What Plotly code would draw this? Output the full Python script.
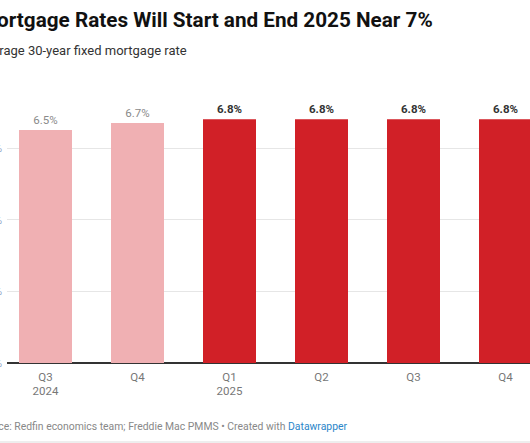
import plotly.graph_objects as go

categories = ["Q3<br>2024", "Q4", "Q1<br>2025", "Q2", "Q3", "Q4"]
rates = [6.5, 6.7, 6.8, 6.8, 6.8, 6.8]
is_forecast = [False, False, True, True, True, True]
y_ticks = [0, 2, 4, 6]
y_tick_labels = ["0%", "2%", "4%", "6%"]

title = "Mortgage Rates Will Start and End 2025 Near 7%"
subtitle = "Average 30-year fixed mortgage rate"
source = ("Source: Redfin economics team; Freddie Mac PMMS • Created with "
          "<span style='color:#2a86c9'>Datawrapper</span>")

W, H = 530, 443
ML, MR, MT, MB = 7, 0, 95, 80
PW = W - ML - MR
PH = H - MT - MB
px_per_cat = 92.0
x0 = -(45.5 - ML) / px_per_cat
x1 = x0 + PW / px_per_cat
px_per_unit = 35.83
ymax = PH / px_per_unit


def px2paper_x(px):
    return (px - ML) / PW


def px2paper_y(py):
    return (H - MB - py) / PH


idx = list(range(len(categories)))
hist_x = [i for i in idx if not is_forecast[i]]
fc_x = [i for i in idx if is_forecast[i]]

fig = go.Figure()
fig.add_trace(go.Bar(
    x=hist_x, y=[rates[i] for i in hist_x],
    marker=dict(color="#f0b0b3", line=dict(width=0)),
    width=0.576,
    text=[f"{rates[i]:.1f}%" for i in hist_x],
    textposition="outside",
    textfont=dict(family="Roboto", size=11.5, color="#8a8a8a"),
    cliponaxis=False,
))
fig.add_trace(go.Bar(
    x=fc_x, y=[rates[i] for i in fc_x],
    marker=dict(color="#d12027", line=dict(width=0)),
    width=0.576,
    text=[f"<b>{rates[i]:.1f}%</b>" for i in fc_x],
    textposition="outside",
    textfont=dict(family="Roboto", size=11.5, color="#333333"),
    cliponaxis=False,
))

fig.update_layout(
    width=W, height=H,
    margin=dict(l=ML, r=MR, t=MT, b=MB, autoexpand=False),
    paper_bgcolor="white", plot_bgcolor="white",
    showlegend=False,
    bargap=0.424,
    font=dict(family="Roboto", color="#333333"),
    xaxis=dict(
        range=[x0, x1], tickmode="array", tickvals=idx, ticktext=categories,
        showgrid=False, zeroline=False, showline=False, ticks="",
        tickfont=dict(family="Roboto", size=11.5, color="#777777"),
        ticklabelstandoff=5,
        fixedrange=True,
    ),
    yaxis=dict(
        range=[0, ymax], tickmode="array", tickvals=y_ticks, ticktext=y_tick_labels,
        showgrid=True, gridcolor="#e6e6e6", gridwidth=1,
        zeroline=True, zerolinecolor="#333333", zerolinewidth=2,
        showline=False, ticks="",
        tickfont=dict(family="Roboto", size=11, color="#8fa6c9"),
        ticklabelstandoff=4,
        fixedrange=True,
    ),
)

fig.add_annotation(
    text=f"<b>{title}</b>", xref="paper", yref="paper",
    x=px2paper_x(-23), y=px2paper_y(20), xanchor="left", yanchor="middle",
    showarrow=False, font=dict(family="Roboto", size=20.7, color="#111111"),
)
fig.add_annotation(
    text=subtitle, xref="paper", yref="paper",
    x=px2paper_x(-24.5), y=px2paper_y(51), xanchor="left", yanchor="middle",
    showarrow=False, font=dict(family="Roboto", size=13, color="#333333"),
)
fig.add_annotation(
    text=source, xref="paper", yref="paper",
    x=px2paper_x(-25), y=px2paper_y(426), xanchor="left", yanchor="middle",
    showarrow=False, font=dict(family="Roboto", size=10.4, color="#888888"),
)
fig.add_shape(
    type="line", xref="paper", yref="paper",
    x0=px2paper_x(0), x1=px2paper_x(W), y0=px2paper_y(442), y1=px2paper_y(442),
    line=dict(color="#dddddd", width=1),
)

fig.write_html("out.html", config={"displayModeBar": False},
               post_script="document.body.style.margin='0';")
